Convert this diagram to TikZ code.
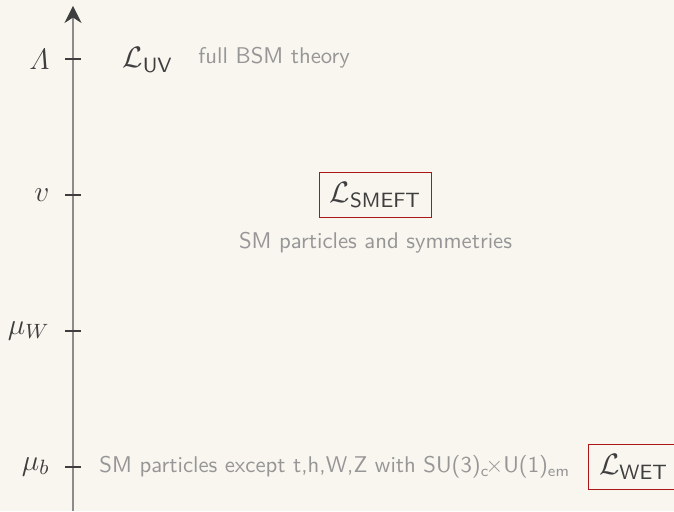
\RequirePackage{fix-cm}
\documentclass[tikz,border=0pt]{standalone}
\usepackage{amsmath}
\usetikzlibrary{arrows.meta,positioning}

\definecolor{bgbeige}{RGB}{249,246,240}
\definecolor{inkdark}{RGB}{62,62,62}
\definecolor{inkgray}{RGB}{150,150,150}
\definecolor{axisgray}{RGB}{140,140,140}
\definecolor{boxred}{RGB}{172,22,22}

\tikzset{
  scalelab/.style={text=inkdark,inner sep=0pt,font=\fontsize{13}{15}\selectfont},
  lagr/.style={text=inkdark,inner sep=0pt,font=\fontsize{13}{15}\selectfont},
  eftbox/.style={lagr,draw=boxred,line width=0.5pt,inner sep=4.6pt},
  note/.style={text=inkgray,inner sep=0pt,font=\sffamily\normalsize},
}

\begin{document}
\begin{tikzpicture}[x=0.44pt,y=0.44pt,>=Stealth]
  \path[use as bounding box,fill=bgbeige] (0,0) rectangle (674,511);
  % energy axis
  \draw[axisgray,line width=0.6pt,-{Stealth[length=7.5pt,width=7.5pt,color=inkdark]}]
    (73,0) -- (73,505);
  % scales with ticks
  \foreach \lab/\y/\name in {\varLambda/452/lam, v/316/vev, \mu_W/180/muw, \mu_b/44/mub}{
    \draw[inkdark,line width=0.5pt] (65,\y) -- (81,\y);
    \node[scalelab,anchor=east] (\name) at (50,\y) {$\lab$}; }
  % full theory
  \node[lagr,anchor=west] (uv) at (122,451) {$\mathcal{L}_{\mathsf{UV}}$};
  \node[note,anchor=west] (uvtext) at (198,453) {full BSM theory};
  % SMEFT
  \node[eftbox] (smeft) at (375.5,316) {$\mathcal{L}_{\mathsf{SMEFT}}$};
  \node[note,below=6pt of smeft] (smefttext) {SM particles and symmetries};
  % WET
  \node[note,anchor=west] (wettext) at (99,44)
    {SM particles except t,h,W,Z with SU(3)$_\text{c}\!\times$U(1)$_\text{em}$};
  \node[eftbox,anchor=west] (wet) at (588,44) {$\mathcal{L}_{\mathsf{WET}}$};
\end{tikzpicture}
\end{document}
